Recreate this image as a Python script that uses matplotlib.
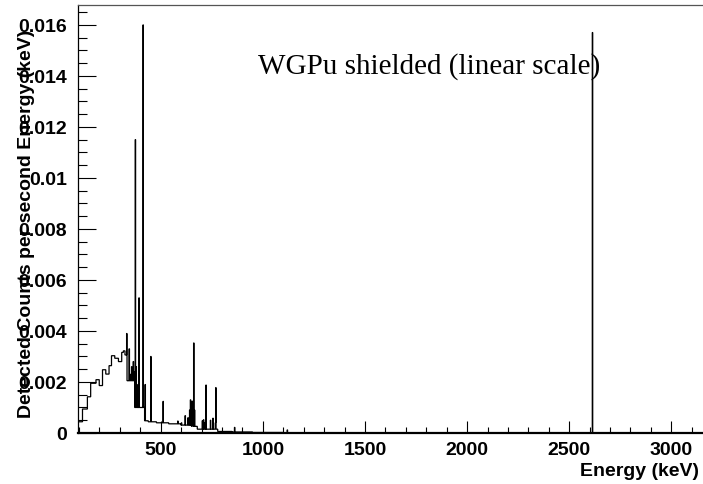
import numpy as np
import matplotlib
matplotlib.use("Agg")
import matplotlib.pyplot as plt
from matplotlib.ticker import MultipleLocator, FuncFormatter

# continuum (keV bin edges, counts/s/keV)
cont_edges = [95, 118, 141, 157, 183, 199, 216, 232, 248, 260, 276, 293, 309, 318,
              326, 334, 371, 421, 440, 480, 540, 600, 650, 680, 780, 850, 950,
              1100, 1500, 2000, 2600, 3155]
cont_vals = [0.00044, 0.00094, 0.00142, 0.00195, 0.00209, 0.00186, 0.00248, 0.00231,
             0.00264, 0.00303, 0.00293, 0.00280, 0.00316, 0.00322, 0.00306, 0.00205,
             0.00100, 0.00048, 0.00044, 0.00040, 0.00036, 0.00031, 0.00026, 0.00015,
             0.00006, 0.00004, 0.00002, 0.00001, 0.000005, 0.000003, 0.000002]

# gamma lines (keV) and peak heights
peak_e = [333, 345, 352, 358, 362, 366, 369, 372, 375, 380, 384, 393, 414, 423, 451,
          511, 583, 601, 620, 634, 641, 646, 650, 653, 656, 658, 662, 666, 703, 710,
          717, 722, 743, 756, 767, 769, 861, 1120]
peak_h = [0.0039, 0.0033, 0.0023, 0.0026, 0.0025, 0.0028, 0.0024, 0.0021, 0.0115,
          0.0026, 0.0019, 0.0053, 0.0160, 0.0019, 0.0030, 0.00124, 0.00047, 0.00040,
          0.00068, 0.00060, 0.00090, 0.00130, 0.00110, 0.00125, 0.00100, 0.00095,
          0.00353, 0.00090, 0.00048, 0.00052, 0.00042, 0.00188, 0.00050, 0.00058,
          0.00040, 0.00178, 0.00022, 0.00012]
# Tl-208 line, drawn on its own
tl_e = 2614
tl_h = 0.0157

# build the fine histogram, 2 keV bins
edges = np.arange(95, 3157, 2)
centers = 0.5 * (edges[:-1] + edges[1:])
idx = np.searchsorted(cont_edges, centers, side="right") - 1
idx = np.clip(idx, 0, len(cont_vals) - 1)
vals = np.array(cont_vals)[idx]
for e, h in zip(peak_e + [tl_e], peak_h + [tl_h]):
    i = int((e - 95) // 2)
    vals[i] = max(vals[i], h)

fig = plt.figure(figsize=(7.03, 4.85), dpi=100)
ax = fig.add_axes([78 / 703, 1 - 434 / 485, 625 / 703, 428 / 485])
ax.stairs(vals, edges, color="black", lw=0.9)

ax.set_xlim(95, 3155)
ax.set_ylim(0, 0.01678)

ax.xaxis.set_major_locator(MultipleLocator(500))
ax.xaxis.set_minor_locator(MultipleLocator(100))
ax.yaxis.set_major_locator(MultipleLocator(0.002))
ax.yaxis.set_minor_locator(MultipleLocator(0.0005))
ax.yaxis.set_major_formatter(FuncFormatter(lambda v, p: "%g" % round(v, 4)))

tickfont = {"family": "Liberation Sans", "weight": "bold", "size": 14}
ax.tick_params(axis="y", which="major", direction="in", length=13, width=0.8, pad=8)
ax.tick_params(axis="y", which="minor", direction="in", length=6.5, width=0.8)
ax.tick_params(axis="x", which="major", direction="in", length=9, width=0.8, pad=6)
ax.tick_params(axis="x", which="minor", direction="in", length=4.3, width=0.8)
for lab in ax.get_xticklabels() + ax.get_yticklabels():
    lab.set_fontproperties(tickfont)

ax.spines["right"].set_visible(False)
ax.spines["bottom"].set_linewidth(1.6)
ax.spines["left"].set_linewidth(0.9)
ax.spines["top"].set_linewidth(0.9)
ax.spines["top"].set_color("#555555")

fig.text(699 / 703, 1 - 476.5 / 485, "Energy (keV)", ha="right", va="baseline",
         family="Liberation Sans", weight="bold", size=14)
fig.text(27 / 703, 1 - 30 / 485, "Detected Counts per second Energy (keV)",
         rotation=90, ha="center", va="top",
         family="Liberation Sans", weight="bold", size=14)
fig.text(258 / 703, 1 - 73.3 / 485, "WGPu shielded (linear scale)", ha="left",
         va="baseline", family="Liberation Serif", size=21)

fig.savefig("out.png", dpi=100)
